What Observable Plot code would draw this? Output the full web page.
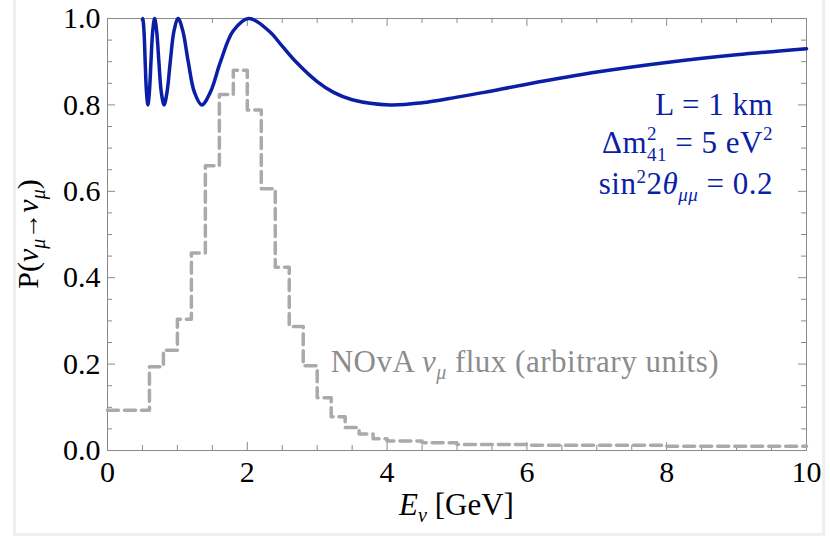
<!DOCTYPE html>
<html><head><meta charset="utf-8">
<script src="https://cdn.jsdelivr.net/npm/d3@7"></script>
<script src="https://cdn.jsdelivr.net/npm/@observablehq/plot@0.6"></script>
<style>
body{margin:0;background:#fff;}
#wrap{position:relative;width:830px;height:536px;overflow:hidden;}
#edge{position:absolute;left:13px;top:0;width:812px;height:536px;box-sizing:border-box;border:3px solid #efefef;border-top:none;pointer-events:none;}
</style></head><body>
<div id="wrap"><div id="chart"></div><div id="edge"></div></div>
<script>
// Survival probability
const probE = [0.500,0.505,0.522,0.539,0.558,0.578,0.599,0.622,0.647,0.674,0.703,0.735,0.770,0.809,0.851,0.898,0.951,1.011,1.078,1.155,1.244,1.348,1.470,1.617,1.797,2.021,2.310,2.500,2.695,3.000,3.234,3.500,4.043,4.500,5.000,5.390,6.000,7.000,8.085,9.000,10.000];
const probP = [0.997,1.000,0.971,0.900,0.829,0.800,0.829,0.900,0.971,1.000,0.971,0.900,0.829,0.800,0.829,0.900,0.971,1.000,0.971,0.900,0.829,0.800,0.829,0.900,0.971,1.000,0.971,0.936,0.900,0.854,0.829,0.812,0.800,0.805,0.818,0.829,0.848,0.876,0.900,0.916,0.930];
// NOvA flux histogram (bin left edges, heights)
const fluxEdges = [0,0.6,0.8,1.0,1.2,1.4,1.6,1.8,2.0,2.2,2.4,2.6,2.8,3.0,3.2,3.4,3.6,3.8,4.0,4.5,5.0,6.0,8.0,10.0];
const fluxValues = [0.093,0.194,0.232,0.304,0.457,0.659,0.824,0.880,0.788,0.606,0.424,0.287,0.196,0.122,0.078,0.053,0.038,0.027,0.022,0.018,0.014,0.012,0.010,0.010];
const xTicks = [0,2,4,6,8,10];
const yTicks = [0,0.2,0.4,0.6,0.8,1.0];
const xMinor = d3.range(0, 10.001, 0.5).filter(v => !xTicks.includes(v));
const yMinor = d3.range(0, 1.001, 0.05).map(v => +v.toFixed(2)).filter(v => !yTicks.some(t => Math.abs(t - v) < 1e-6));

const probRows = probE.map((e, i) => ({e, p: probP[i]}));
const fluxRows = fluxEdges.map((e, i) => ({e, v: fluxValues[i]}));

const W = 830, H = 536, ML = 107, MR = 24, MT = 18, MB = 86;
const innerW = W - ML - MR, innerH = H - MT - MB;
const frameColor = "#8a8a8a";
const blue = "#0a1ea6";
const SERIF = "'Liberation Serif', 'Times New Roman', serif";

function addText(g, x, y, parts, opts = {}) {
  const t = g.append("text")
    .attr("x", x).attr("y", y)
    .attr("text-anchor", opts.anchor || "start")
    .attr("fill", opts.fill || "black")
    .attr("font-size", opts.size || 31)
    .attr("font-family", SERIF);
  if (opts.spacing) t.attr("letter-spacing", opts.spacing);
  if (opts.transform) t.attr("transform", opts.transform);
  for (const p of parts) {
    const s = t.append("tspan").text(p.t);
    if (p.italic) s.attr("font-style", "italic");
    if (p.size) s.attr("font-size", p.size);
    if (p.dx) s.attr("dx", p.dx);
    if (p.dy) s.attr("dy", p.dy);
  }
  return t;
}

function annotations(index, scales, values, dims) {
  const g = d3.create("svg:g");
  const right = dims.width - dims.marginRight;
  const xr = right - 33;
  addText(g, xr, dims.marginTop + 97, [{t: "L = 1 km"}], {anchor: "end", fill: blue, spacing: 0.5});
  addText(g, xr, dims.marginTop + 135, [
    {t: "\u0394m"}, {t: "2", size: 19, dy: -13}, {t: "41", size: 19, dx: -10, dy: 21},
    {t: " = 5 eV", dy: -8}, {t: "2", size: 19, dy: -13}
  ], {anchor: "end", fill: blue, spacing: 0.5});
  addText(g, xr, dims.marginTop + 176, [
    {t: "sin"}, {t: "2", size: 19, dy: -11}, {t: "2", dy: 11}, {t: "\u03B8", italic: true},
    {t: "\u03BC\u03BC", italic: true, size: 19, dy: 7}, {t: " = 0.2", dy: -7}
  ], {anchor: "end", fill: blue, spacing: 0.5});
  // flux label
  addText(g, scales.x(3.2), scales.y(0.18), [
    {t: "NOvA "}, {t: "\u03BD", italic: true}, {t: "\u03BC", italic: true, size: 20, dy: 7},
    {t: " flux (arbitrary units)", dy: -7}
  ], {fill: "#8c8c8c", spacing: 0.5});
  // axis labels
  const cx = (dims.marginLeft + dims.width - dims.marginRight) / 2;
  addText(g, cx, dims.height - 21, [
    {t: "E", italic: true}, {t: "\u03BD", italic: true, size: 20, dy: 7}, {t: " [GeV]", dy: -7}
  ], {anchor: "middle"});
  const cy = (dims.marginTop + dims.height - dims.marginBottom) / 2;
  addText(g, 0, 0, [
    {t: "P("}, {t: "\u03BD", italic: true}, {t: "\u03BC", italic: true, size: 20, dy: 7},
    {t: "\u2192", size: 26, dy: -7}, {t: "\u03BD", italic: true}, {t: "\u03BC", italic: true, size: 20, dy: 7},
    {t: ")", dy: -7}
  ], {anchor: "middle", size: 30, transform: `translate(38,${cy}) rotate(-90)`});
  return g.node();
}

const chart = Plot.plot({
  width: W, height: H,
  marginLeft: ML, marginRight: MR, marginTop: MT, marginBottom: MB,
  style: {fontFamily: SERIF, fontSize: "30px", background: "transparent", color: "black"},
  x: {domain: [0, 10]},
  y: {domain: [0, 1]},
  marks: [
    Plot.frame({stroke: frameColor}),
    Plot.tickX(xTicks, {x: d => d, insetTop: innerH - 8, stroke: frameColor}),
    Plot.tickX(xTicks, {x: d => d, insetBottom: innerH - 8, stroke: frameColor}),
    Plot.tickX(xMinor, {x: d => d, insetTop: innerH - 5, stroke: frameColor}),
    Plot.tickX(xMinor, {x: d => d, insetBottom: innerH - 5, stroke: frameColor}),
    Plot.tickY(yTicks, {y: d => d, insetRight: innerW - 8, stroke: frameColor}),
    Plot.tickY(yTicks, {y: d => d, insetLeft: innerW - 8, stroke: frameColor}),
    Plot.tickY(yMinor, {y: d => d, insetRight: innerW - 5, stroke: frameColor}),
    Plot.tickY(yMinor, {y: d => d, insetLeft: innerW - 5, stroke: frameColor}),
    Plot.line(fluxRows, {x: "e", y: "v", curve: "step-after", stroke: "#aaaaaa", strokeWidth: 3.5, strokeDasharray: "11,6"}),
    Plot.line(probRows, {x: "e", y: "p", curve: "catmull-rom", stroke: blue, strokeWidth: 3.5}),
    Plot.axisX(xTicks, {anchor: "bottom", tickSize: 0, tickPadding: 10, tickFormat: d => String(d), label: null, fontSize: 30}),
    Plot.axisY(yTicks, {anchor: "left", tickSize: 0, tickPadding: 7, tickFormat: d3.format(".1f"), label: null, fontSize: 30}),
    annotations
  ]
});
document.getElementById("chart").appendChild(chart);
</script>
</body></html>
